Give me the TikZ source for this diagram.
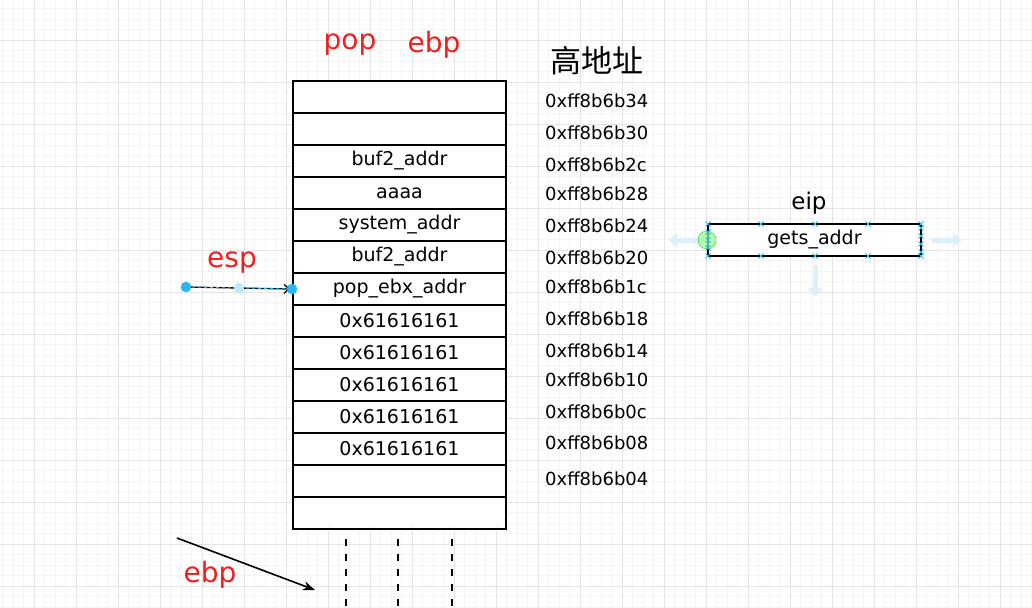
\documentclass[tikz,border=0pt]{standalone}
\usepackage{fontspec}
\setmainfont{DejaVu Sans}
\newfontfamily\cjk{Noto Sans CJK SC}
\usepackage{xcolor}
\usepackage{tikz}
\usetikzlibrary{arrows,arrows.meta,calc,positioning}

\definecolor{gridminor}{HTML}{F4F4F4}
\definecolor{gridmajor}{HTML}{E4E4E4}
\definecolor{handle}{HTML}{29B6F2}
\definecolor{ghost}{HTML}{DDEFFA}
\definecolor{regred}{HTML}{F01E1E}

\tikzset{
  cell/.style={draw, line width=2pt, minimum width=213pt, minimum height=32pt,
    inner sep=0pt, font=\fontsize{19}{21}\selectfont},
  addr/.style={anchor=west, inner sep=0pt, font=\fontsize{18}{20}\selectfont},
  reglabel/.style={text=regred, inner sep=0pt, font=\fontsize{28}{30}\selectfont},
  ghostarrow/.style={ghost, line width=5pt, -{Triangle[width=14pt,length=9pt]}},
}

\begin{document}
\begin{tikzpicture}[x=1pt,y=-1pt]
  \useasboundingbox (0,0) rectangle (1032,607);

  % background grid
  \foreach \x in {2.5,13,...,1032}
    \draw[gridminor, line width=0.8pt] (\x,0) -- (\x,607);
  \foreach \y in {8.5,19,...,607}
    \draw[gridminor, line width=0.8pt] (0,\y) -- (1032,\y);
  \foreach \x in {34,76,...,1032}
    \draw[gridmajor, line width=0.9pt] (\x,0) -- (\x,607);
  \foreach \y in {40,82,...,607}
    \draw[gridmajor, line width=0.9pt] (0,\y) -- (1032,\y);

  % the stack
  \fill[white] (293,81) rectangle (506,527);
  \foreach \i/\t in {1/{}, 2/{}, 3/buf2\_addr, 4/aaaa, 5/system\_addr, 6/buf2\_addr,
      7/pop\_ebx\_addr, 8/0x61616161, 9/0x61616161, 10/0x61616161, 11/0x61616161,
      12/0x61616161, 13/{}, 14/{}}
    \node[cell] (c\i) at (399.5, 81+32*\i-16) {\t};

  \foreach \y/\t in {101/34, 133/30, 165/2c, 194/28, 226/24, 258/20, 287/1c,
      319/18, 351/14, 380/10, 412/0c, 443/08, 479/04}
    \node[addr] (a\t) at (545,\y) {0xff8b6b\t};

  \node[font=\cjk\fontsize{31}{33}\selectfont, inner sep=0pt] (high) at (597,61) {高地址};

  \node[reglabel] (pop) at (350,45) {pop};
  \node[reglabel] (ebptop) at (434,45) {ebp};
  \node[reglabel] (esp) at (232,263) {esp};
  \node[reglabel] (ebpbot) at (210,575) {ebp};

  % dashed continuation below the stack
  \foreach \x in {346,398,452}
    \draw[line width=2pt, dash pattern=on 7pt off 8pt] (\x,539) -- (\x,610);

  % esp pointer
  \coordinate (espfrom) at (186,287);
  \draw[line width=1.3pt, -{Straight Barb[length=5pt,width=9pt]}] (espfrom) -- ($(c7.west)+(-2,0)$);
  \draw[handle, dashed, line width=0.8pt] (espfrom) -- (c7.west);
  \filldraw[handle] (espfrom) circle (5pt);
  \filldraw[handle!30] ($(espfrom)!0.5!(c7.west)$) circle (5pt);
  \filldraw[handle] (c7.west) circle (5pt);

  % ebp pointer
  \coordinate (ebpfrom) at (177,538);
  \coordinate (ebpto) at (315,590);
  \draw[line width=1.6pt, -{Stealth[length=12pt,width=9pt]}] (ebpfrom) -- (ebpto);

  % eip box
  \node[font=\fontsize{23}{25}\selectfont, inner sep=0pt] (eip) at (809,203) {eip};
  \node[cell, fill=white, minimum width=213pt, minimum height=32pt] (gets) at (814.5,240) {gets\_addr};

  \draw[ghostarrow] (700,240) -- (668,240);
  \draw[ghostarrow] (932,240) -- (962,240);
  \draw[ghostarrow] (815,265) -- (815,297);

  \filldraw[fill=green!45!white, draw=green!60!black, opacity=0.7] (gets.west) circle (9pt);

  \foreach \x/\y in {708/224, 761/224, 815/224, 868/224, 921/224,
      708/256, 761/256, 815/256, 868/256, 921/256,
      708/232, 708/240, 708/248, 921/228, 921/236, 921/244, 921/252}
    \draw[handle, line width=0.9pt] (\x-2.5,\y-2.5) -- (\x+2.5,\y+2.5)
      (\x-2.5,\y+2.5) -- (\x+2.5,\y-2.5);

\end{tikzpicture}
\end{document}
